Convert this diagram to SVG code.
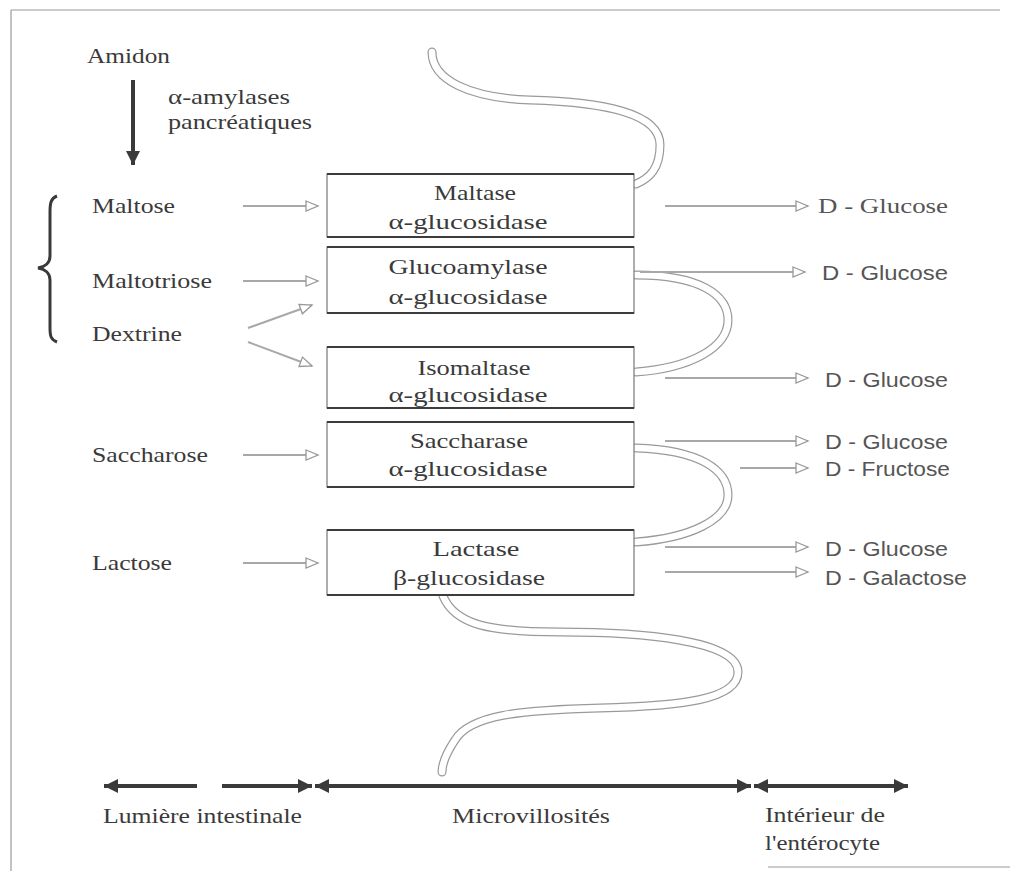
<svg xmlns="http://www.w3.org/2000/svg" width="1010" height="871" viewBox="0 0 1010 871">
<style>
text{font-family:"Liberation Serif","DejaVu Serif",serif;font-size:22px;fill:#3a3a3a}
.sans{font-family:"Liberation Sans","DejaVu Sans",sans-serif;font-size:20px;fill:#555}
.mid{text-anchor:middle}
.frame{stroke:#9a9a9a;stroke-width:1.2;fill:none}
.box{fill:#fff;stroke:#777;stroke-width:1.2}
.edge{stroke:#3c3c3c;stroke-width:2;fill:none}
.thin{stroke:#a8a8a8;stroke-width:2;fill:none}
.thick{stroke:#3a3a3a;stroke-width:4;fill:none}
.tubeo{stroke:#9a9a9a;stroke-width:9;fill:none;stroke-linecap:round}
.tubei{stroke:#fff;stroke-width:6.6;fill:none;stroke-linecap:round}
</style>
<defs>
<marker id="open" markerUnits="userSpaceOnUse" markerWidth="14" markerHeight="12" refX="12" refY="5" orient="auto" overflow="visible">
<path d="M0,0 L12,5 L0,10 Z" fill="#fff" stroke="#999" stroke-width="1.3"/>
</marker>
<marker id="solidE" markerUnits="userSpaceOnUse" markerWidth="16" markerHeight="16" refX="14" refY="7" orient="auto" overflow="visible">
<path d="M0,0 L14,7 L0,14 Z" fill="#3a3a3a"/>
</marker>
<marker id="solidS" markerUnits="userSpaceOnUse" markerWidth="16" markerHeight="16" refX="0" refY="7" orient="auto" overflow="visible">
<path d="M14,0 L0,7 L14,14 Z" fill="#3a3a3a"/>
</marker>
</defs>
<rect width="1010" height="871" fill="#fff"/>
<g id="frame">
<path class="frame" d="M11,10 H1000 M11,10 V871 M768,867 H1010"/>
</g>
<g id="microvilli">
<path class="tubeo" d="M432,52 C432,80 470,98 530,100 C600,102 660,112 660,145 C660,168 650,178 636,184"/>
<path class="tubei" d="M432,52 C432,80 470,98 530,100 C600,102 660,112 660,145 C660,168 650,178 636,184"/>
<path class="tubeo" d="M636,275 C700,275 728,295 728,320 C728,348 690,368 636,372"/>
<path class="tubei" d="M636,275 C700,275 728,295 728,320 C728,348 690,368 636,372"/>
<path class="tubeo" d="M636,448 C700,450 728,470 728,495 C728,520 690,538 636,542"/>
<path class="tubei" d="M636,448 C700,450 728,470 728,495 C728,520 690,538 636,542"/>
<path class="tubeo" d="M443,596 C455,625 490,632 560,632 C640,632 738,640 738,672 C738,700 680,706 600,708 C520,710 470,715 455,740 C445,755 442,765 442,772"/>
<path class="tubei" d="M443,596 C455,625 490,632 560,632 C640,632 738,640 738,672 C738,700 680,706 600,708 C520,710 470,715 455,740 C445,755 442,765 442,772"/>
</g>
<g id="connectors">
<line class="thick" x1="133" y1="80" x2="133" y2="165" marker-end="url(#solidE)"/>
<line class="thin" x1="243" y1="206" x2="318" y2="206" marker-end="url(#open)"/>
<line class="thin" x1="243" y1="281" x2="318" y2="281" marker-end="url(#open)"/>
<line class="thin" x1="248" y1="328" x2="312" y2="305" marker-end="url(#open)"/>
<line class="thin" x1="248" y1="342" x2="312" y2="366" marker-end="url(#open)"/>
<line class="thin" x1="243" y1="455" x2="318" y2="455" marker-end="url(#open)"/>
<line class="thin" x1="243" y1="563" x2="318" y2="563" marker-end="url(#open)"/>
<line class="thin" x1="665" y1="206" x2="808" y2="206" marker-end="url(#open)"/>
<line class="thin" x1="640" y1="272" x2="805" y2="272" marker-end="url(#open)"/>
<line class="thin" x1="665" y1="378" x2="808" y2="378" marker-end="url(#open)"/>
<line class="thin" x1="665" y1="441" x2="808" y2="441" marker-end="url(#open)"/>
<line class="thin" x1="740" y1="468" x2="808" y2="468" marker-end="url(#open)"/>
<line class="thin" x1="665" y1="547" x2="808" y2="547" marker-end="url(#open)"/>
<line class="thin" x1="665" y1="572" x2="808" y2="572" marker-end="url(#open)"/>
<line class="thick" x1="104" y1="786" x2="197" y2="786" marker-start="url(#solidS)"/>
<line class="thick" x1="222" y1="786" x2="312" y2="786" marker-end="url(#solidE)"/>
<line class="thick" x1="315" y1="786" x2="751" y2="786" marker-start="url(#solidS)" marker-end="url(#solidE)"/>
<line class="thick" x1="754" y1="786" x2="908" y2="786" marker-start="url(#solidS)" marker-end="url(#solidE)"/>
</g>
<g id="brace">
<path d="M57,196 C51,198 50,203 50,212 L50,256 C50,263 45,267 38,268 C45,269 50,273 50,280 L50,328 C50,336 51,340 57,342" fill="none" stroke="#3a3a3a" stroke-width="3"/>
</g>
<g id="amidon">
<text x="87" y="63" textLength="83" lengthAdjust="spacingAndGlyphs">Amidon</text>
</g>
<g id="amylases">
<text x="168" y="104" textLength="122" lengthAdjust="spacingAndGlyphs">α-amylases</text>
<text x="168" y="129" textLength="144" lengthAdjust="spacingAndGlyphs">pancréatiques</text>
</g>
<g id="substrates">
<text x="92" y="213" textLength="83" lengthAdjust="spacingAndGlyphs">Maltose</text>
<text x="92" y="288" textLength="120" lengthAdjust="spacingAndGlyphs">Maltotriose</text>
<text x="92" y="341" textLength="90" lengthAdjust="spacingAndGlyphs">Dextrine</text>
<text x="92" y="462" textLength="116" lengthAdjust="spacingAndGlyphs">Saccharose</text>
<text x="92" y="570" textLength="80" lengthAdjust="spacingAndGlyphs">Lactose</text>
</g>
<g id="maltase">
<rect class="box" x="327" y="174" width="307" height="63"/>
<path class="edge" d="M327,174 H634 M327,237 H634"/>
<text class="mid" x="475" y="200" textLength="82" lengthAdjust="spacingAndGlyphs">Maltase</text>
<text class="mid" x="468" y="229" textLength="159" lengthAdjust="spacingAndGlyphs">α-glucosidase</text>
</g>
<g id="glucoamylase">
<rect class="box" x="327" y="247" width="307" height="66"/>
<path class="edge" d="M327,247 H634 M327,313 H634"/>
<text class="mid" x="468" y="274" textLength="159" lengthAdjust="spacingAndGlyphs">Glucoamylase</text>
<text class="mid" x="468" y="304" textLength="159" lengthAdjust="spacingAndGlyphs">α-glucosidase</text>
</g>
<g id="isomaltase">
<rect class="box" x="327" y="347" width="307" height="61"/>
<path class="edge" d="M327,347 H634 M327,408 H634"/>
<text class="mid" x="474" y="375" textLength="113" lengthAdjust="spacingAndGlyphs">Isomaltase</text>
<text class="mid" x="468" y="402" textLength="159" lengthAdjust="spacingAndGlyphs">α-glucosidase</text>
</g>
<g id="saccharase">
<rect class="box" x="327" y="422" width="307" height="65"/>
<path class="edge" d="M327,422 H634 M327,487 H634"/>
<text class="mid" x="469" y="448" textLength="118" lengthAdjust="spacingAndGlyphs">Saccharase</text>
<text class="mid" x="468" y="476" textLength="159" lengthAdjust="spacingAndGlyphs">α-glucosidase</text>
</g>
<g id="lactase">
<rect class="box" x="327" y="530" width="307" height="65"/>
<path class="edge" d="M327,530 H634 M327,595 H634"/>
<text class="mid" x="476" y="556" textLength="87" lengthAdjust="spacingAndGlyphs">Lactase</text>
<text class="mid" x="469" y="585" textLength="152" lengthAdjust="spacingAndGlyphs">β-glucosidase</text>
</g>
<g id="products">
<text x="818" y="213" textLength="130" lengthAdjust="spacingAndGlyphs" style="fill:#555;font-size:20px">D - Glucose</text>
<text class="sans" x="822" y="280" textLength="126" lengthAdjust="spacingAndGlyphs">D - Glucose</text>
<text class="sans" x="825" y="387" textLength="123" lengthAdjust="spacingAndGlyphs">D - Glucose</text>
<text class="sans" x="825" y="449" textLength="123" lengthAdjust="spacingAndGlyphs">D - Glucose</text>
<text class="sans" x="825" y="476" textLength="125" lengthAdjust="spacingAndGlyphs">D - Fructose</text>
<text class="sans" x="825" y="556" textLength="123" lengthAdjust="spacingAndGlyphs">D - Glucose</text>
<text class="sans" x="825" y="585" textLength="142" lengthAdjust="spacingAndGlyphs">D - Galactose</text>
</g>
<g id="regions">
<text x="103" y="823" textLength="199" lengthAdjust="spacingAndGlyphs">Lumière intestinale</text>
<text x="452" y="823" textLength="158" lengthAdjust="spacingAndGlyphs">Microvillosités</text>
<text x="765" y="822" textLength="120" lengthAdjust="spacingAndGlyphs">Intérieur de</text>
<text x="765" y="850" textLength="115" lengthAdjust="spacingAndGlyphs">l'entérocyte</text>
</g>
</svg>
